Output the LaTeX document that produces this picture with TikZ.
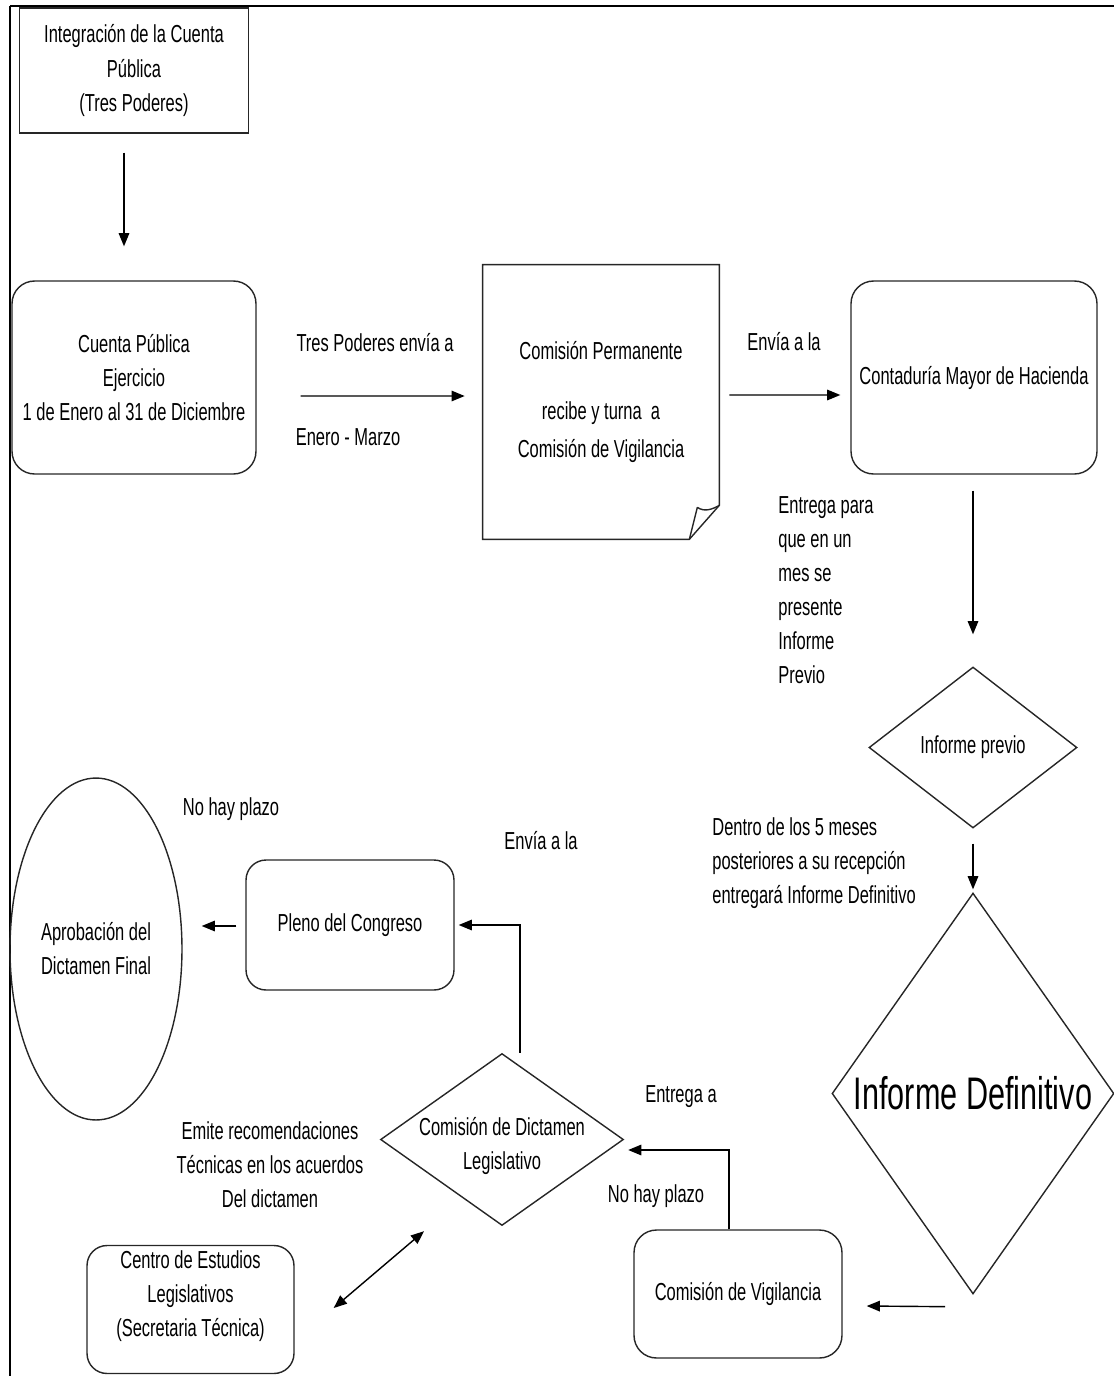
\documentclass[tikz,border=0pt]{standalone}
\usepackage{fontspec}
\setmainfont[FakeStretch=0.67]{Liberation Sans}
\usetikzlibrary{shapes.geometric,arrows.meta,calc}

\tikzset{
  shapeline/.style={draw=black!85, line width=0.8pt},
  sqbox/.style={shapeline, rectangle, inner sep=0pt, align=center},
  rbox/.style={shapeline, rectangle, rounded corners=0.45cm, inner sep=0pt, align=center},
  dia/.style={shapeline, diamond, inner sep=0pt, align=center},
  oval/.style={shapeline, ellipse, inner sep=0pt, align=center},
  txt/.style={inner sep=0pt, align=center},
  ltxt/.style={inner sep=0pt, align=left, anchor=west},
  arr/.style={-{Triangle[length=7.5pt,width=6pt]}, line width=0.8pt},
  darr/.style={{Triangle[length=7.5pt,width=6pt]}-{Triangle[length=7.5pt,width=6pt]}, line width=0.8pt},
}

\begin{document}
\begin{tikzpicture}[x=0.02cm, y=-0.02cm, font=\fontsize{14}{19.4}\selectfont]
  \useasboundingbox (0,0) rectangle (1114,1376);

  % page frame (top and left rules)
  \draw[line width=1.4pt] (10,6) -- (1114,6);
  \draw[line width=1.1pt] (10,6) -- (10,1376);

  % process boxes
  \node[sqbox, minimum width=4.58cm, minimum height=2.5cm] (b1) at (134,70.5)
    {Integración de la Cuenta\\Pública\\(Tres Poderes)};
  \node[rbox, minimum width=4.88cm, minimum height=3.86cm] (b2) at (134,377.5)
    {Cuenta Pública\\Ejercicio\\1 de Enero al 31 de Diciembre};

  % note with folded corner
  \node[txt, minimum width=4.72cm, minimum height=5.48cm] (note) at (601,402)
    {Comisión Permanente\\[14.8pt]recibe y turna\ \ a\\[2pt]Comisión de Vigilancia};
  \draw[shapeline] (note.north west) -- (note.north east)
    -- ($(note.south east)+(0,-34)$) -- ($(note.south east)+(-30,0)$)
    -- (note.south west) -- cycle;
  \draw[shapeline] ($(note.south east)+(-22,-32)$)
    .. controls ($(note.south east)+(-15,-27)$) and ($(note.south east)+(-7,-30)$)
    .. ($(note.south east)+(0,-34)$);
  \draw[shapeline] ($(note.south east)+(-22,-32)$) -- ($(note.south east)+(-30,0)$);

  \node[rbox, minimum width=4.92cm, minimum height=3.86cm] (cmh) at (974,377.5)
    {Contaduría Mayor de Hacienda};
  \node[dia, minimum width=4.16cm, minimum height=3.22cm] (ip) at (973,747.5)
    {Informe previo};
  \node[dia, minimum width=5.64cm, minimum height=8.02cm] (idef) at (973,1093.5)
    {\fontsize{26}{30}\selectfont Informe Definitivo};
  \node[rbox, minimum width=4.16cm, minimum height=2.56cm] (cv) at (738,1294)
    {Comisión de Vigilancia};
  \node[dia, minimum width=4.86cm, minimum height=3.44cm] (cdl) at (502,1139.5) {};
  \node[txt] (cdlt) at (502,1146) {Comisión de Dictamen\\Legislativo};
  \node[rbox, rounded corners=0.4cm, minimum width=4.16cm, minimum height=2.6cm] (pleno) at (350,925)
    {Pleno del Congreso};
  \node[oval, minimum width=3.44cm, minimum height=6.84cm] (ap) at (96,949)
    {Aprobación del\\Dictamen Final};
  \node[rbox, rounded corners=0.4cm, minimum width=4.14cm, minimum height=2.56cm] (cel) at (190.5,1309.5) {};
  \node[txt] (celt) at (190.5,1296)
    {Centro de Estudios\\Legislativos\\(Secretaria Técnica)};

  % connectors
  \draw[arr] ($(b1.south)+(-10,19)$) -- ($(b2.north)+(-10,-34)$);
  \draw[arr] ($(b2.east)+(44,18.5)$) -- ($(note.west)+(-18,-6)$);
  \draw[arr] ($(note.east)+(10,-7)$) -- ($(cmh.west)+(-10,17.5)$);
  \draw[arr] ($(cmh.south)+(-1,16)$) -- ($(ip.north)+(0,-32)$);
  \draw[arr] ($(ip.south)+(0,15)$) -- ($(idef.north)+(0,-3)$);
  \draw[arr] ($(idef.south)+(-28,12)$) -- ($(cv.east)+(24,12)$);
  \draw[arr] ($(cv.north)+(-9,0)$) |- ($(cdl.east)+(4,10.5)$);
  \draw[arr] ($(cdl.north)+(18,0)$) |- ($(pleno.east)+(4,0)$);
  \draw[arr] ($(pleno.west)+(-9,1)$) -- ($(ap.east)+(19,-23)$);
  \draw[darr] ($(cel.east)+(39,-1.5)$) -- ($(cdl.south)+(-78,5)$);

  % connector labels
  \node[txt] (l1) at (375,343) {Tres Poderes envía a};
  \node[txt] (l2) at (348,437) {Enero - Marzo};
  \node[txt] (l3) at (784,342) {Envía a la};
  \node[ltxt] (l4) at (778,590)
    {Entrega para\\que en un\\mes se\\presente\\Informe\\Previo};
  \node[ltxt] (l5) at (712,863)
    {Dentro de los 5 meses\\posteriores a su recepción\\entregará Informe Definitivo};
  \node[txt] (l6) at (231,809) {No hay plazo};
  \node[txt] (l7) at (541,841) {Envía a la};
  \node[txt] (l8) at (270,1165)
    {Emite recomendaciones\\Técnicas en los acuerdos\\Del dictamen};
  \node[txt] (l9) at (681,1097) {Entrega a};
  \node[txt] (l10) at (656,1196) {No hay plazo};
\end{tikzpicture}
\end{document}
